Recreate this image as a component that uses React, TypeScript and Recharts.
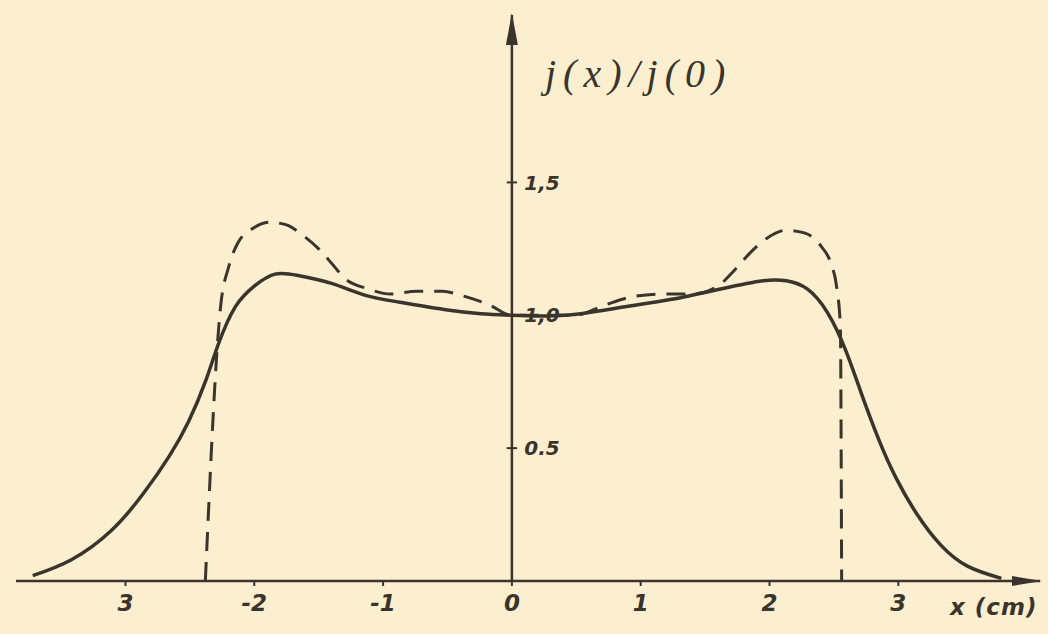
import React from "react";
import { LineChart, Line, XAxis, YAxis, ReferenceLine, ReferenceDot } from "recharts";

// solid curve (measured profile)
const solidX = [-3.72, -3.42, -3.11, -2.86, -2.66, -2.51, -2.38, -2.28, -2.15, -2.0, -1.84, -1.66, -1.4, -1.15, -0.88, -0.5, -0.24, 0, 0.41, 0.85, 1.24, 1.63, 1.95, 2.13, 2.29, 2.45, 2.59, 2.71, 2.85, 2.98, 3.14, 3.33, 3.54, 3.8];
const solidY = [0.02, 0.08, 0.19, 0.33, 0.47, 0.6, 0.75, 0.89, 1.03, 1.11, 1.155, 1.15, 1.12, 1.077, 1.05, 1.02, 1.006, 1.0, 1.0, 1.03, 1.06, 1.1, 1.13, 1.13, 1.1, 1.01, 0.87, 0.71, 0.53, 0.39, 0.255, 0.135, 0.055, 0.01];

// dashed curve (computed profile)
const dashX = [-2.38, -2.26, -2.2, -2.13, -2.0, -1.88, -1.75, -1.62, -1.5, -1.39, -1.3, -1.12, -0.94, -0.74, -0.54, -0.36, -0.18, 0, 0.49, 0.73, 0.94, 1.18, 1.4, 1.6, 1.71, 1.84, 1.98, 2.13, 2.27, 2.4, 2.48, 2.52, 2.55, 2.56];
const dashY = [0, 1.04, 1.18, 1.27, 1.33, 1.35, 1.34, 1.3, 1.25, 1.19, 1.14, 1.1, 1.08, 1.09, 1.09, 1.07, 1.04, 1.0, 1.0, 1.04, 1.07, 1.08, 1.08, 1.11, 1.16, 1.23, 1.29, 1.32, 1.31, 1.26, 1.19, 1.11, 0.96, 0];

const xTicks = [-3, -2, -1, 0, 1, 2, 3];
const xTickLabels = ["3", "-2", "-1", "0", "1", "2", "3"];
const yTicks = [0.5, 1.0, 1.5];
const yTickLabels = ["0.5", "1,0", "1,5"];

const INK = "#3b342c";
const PAPER = "#fbefd0";
const X_MAX = 4.1;
const Y_MAX = 2.13;

const solidData = solidX.map((x, i) => ({ x, y: solidY[i] }));
const dashData = dashX.map((x, i) => ({ x, y: dashY[i] }));

const tickFont = { fontFamily: "DejaVu Sans", fontStyle: "italic", fontWeight: 700, fontSize: 23, fill: INK };
const yTickFont = { fontFamily: "DejaVu Sans", fontStyle: "italic", fontWeight: 700, fontSize: 20, fill: INK };

export default function App() {
  return (
    <div style={{ position: "absolute", left: 0, top: 0, width: 1048, height: 634, background: PAPER, overflow: "hidden" }}>
      <LineChart width={1048} height={634} margin={{ top: 15, right: 8, bottom: 13, left: 16 }}>
        <XAxis
          type="number"
          dataKey="x"
          domain={[-3.85, X_MAX]}
          ticks={xTicks}
          allowDataOverflow
          height={40}
          axisLine={{ stroke: INK, strokeWidth: 2.5 }}
          tickLine={{ stroke: INK, strokeWidth: 2 }}
          tickSize={5}
          tickMargin={9}
          tickFormatter={(v: number) => xTickLabels[xTicks.indexOf(v)] ?? String(v)}
          tick={tickFont}
        />
        <YAxis type="number" dataKey="y" domain={[0, Y_MAX]} allowDataOverflow hide />
        <ReferenceLine x={0} stroke={INK} strokeWidth={2.5} ifOverflow="visible" />
        {yTicks.map((v) => (
          <ReferenceLine
            key={"t" + v}
            segment={[{ x: -0.04, y: v }, { x: 0.04, y: v }]}
            stroke={INK}
            strokeWidth={2}
            ifOverflow="visible"
          />
        ))}
        {yTicks.map((v, i) => (
          <ReferenceDot
            key={"l" + v}
            x={0.05}
            y={v}
            r={0}
            ifOverflow="visible"
            label={{ value: yTickLabels[i], position: "right", offset: 6, ...yTickFont }}
          />
        ))}
        <ReferenceDot
          x={0}
          y={Y_MAX}
          ifOverflow="visible"
          shape={(p: any) => (
            <path d={`M${p.cx},${p.cy - 2} L${p.cx - 6},${p.cy + 30} L${p.cx + 6},${p.cy + 30} Z`} fill={INK} />
          )}
        />
        <ReferenceDot
          x={X_MAX}
          y={0}
          ifOverflow="visible"
          shape={(p: any) => (
            <path d={`M${p.cx + 2},${p.cy} L${p.cx - 28},${p.cy - 5} L${p.cx - 28},${p.cy + 5} Z`} fill={INK} />
          )}
        />
        <Line
          data={dashData}
          dataKey="y"
          type="monotone"
          stroke={INK}
          strokeWidth={3}
          strokeDasharray="19 11"
          dot={false}
          activeDot={false}
          isAnimationActive={false}
        />
        <Line
          data={solidData}
          dataKey="y"
          type="natural"
          stroke={INK}
          strokeWidth={3.5}
          dot={false}
          activeDot={false}
          isAnimationActive={false}
        />
      </LineChart>
      <div
        style={{
          position: "absolute",
          left: 545,
          top: 54,
          fontFamily: "Liberation Serif",
          fontStyle: "italic",
          fontSize: 40,
          letterSpacing: 7,
          color: INK,
          lineHeight: 1,
          whiteSpace: "nowrap",
        }}
      >
        j(x)/j(0)
      </div>
      <div
        style={{
          position: "absolute",
          left: 950,
          top: 594,
          fontFamily: "DejaVu Sans",
          fontStyle: "italic",
          fontWeight: 700,
          fontSize: 23,
          letterSpacing: 1,
          color: INK,
          whiteSpace: "nowrap",
        }}
      >
        x (cm)
      </div>
    </div>
  );
}
